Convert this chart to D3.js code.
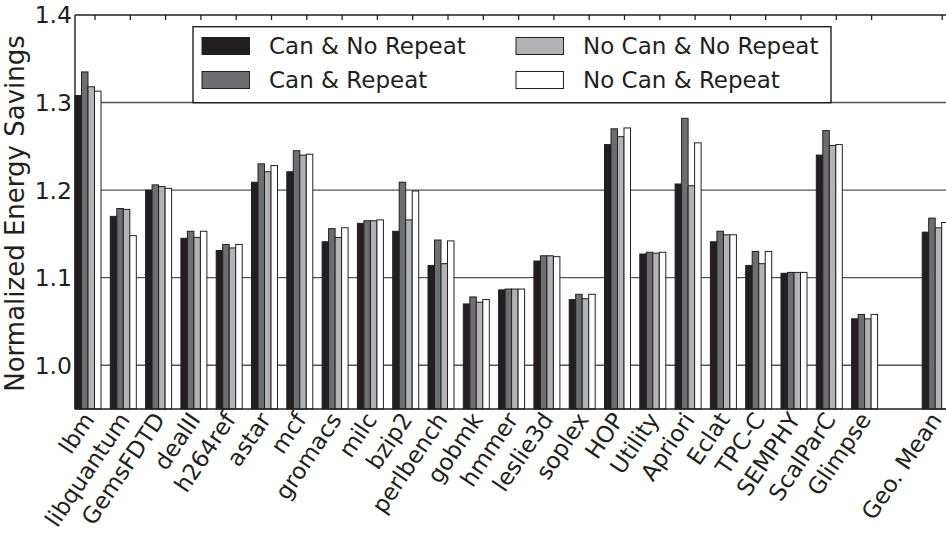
<!DOCTYPE html>
<html>
<head>
<meta charset="utf-8">
<script src="https://cdn.jsdelivr.net/npm/d3@7"></script>
<style>
  html, body { margin: 0; padding: 0; background: #fff; }
  svg { display: block; font-family: "DejaVu Sans", sans-serif; }
</style>
</head>
<body>
<svg id="chart" width="946" height="535"></svg>
<script>
// Benchmarks, in plotting order (an empty slot separates the geometric mean)
const categories = ["lbm", "libquantum", "GemsFDTD", "dealII", "h264ref", "astar", "mcf",
  "gromacs", "milc", "bzip2", "perlbench", "gobmk", "hmmer", "leslie3d", "soplex", "HOP",
  "Utility", "Apriori", "Eclat", "TPC-C", "SEMPHY", "ScalParC", "Glimpse", "", "Geo. Mean"];

const seriesNames = ["Can & No Repeat", "Can & Repeat", "No Can & No Repeat", "No Can & Repeat"];
const seriesColors = ["#231f20", "#6d6e71", "#b1b3b6", "#ffffff"];

const canNoRepeat = [1.308, 1.170, 1.200, 1.145, 1.131, 1.209, 1.221, 1.141, 1.162, 1.153,
  1.114, 1.070, 1.086, 1.119, 1.075, 1.252, 1.127, 1.207, 1.141, 1.114, 1.105, 1.240, 1.053, null, 1.152];
const canRepeat = [1.335, 1.179, 1.206, 1.153, 1.138, 1.230, 1.245, 1.156, 1.165, 1.209,
  1.143, 1.078, 1.087, 1.125, 1.081, 1.270, 1.129, 1.282, 1.153, 1.130, 1.106, 1.268, 1.058, null, 1.168];
const noCanNoRepeat = [1.318, 1.178, 1.204, 1.146, 1.134, 1.221, 1.240, 1.146, 1.165, 1.166,
  1.116, 1.072, 1.087, 1.125, 1.076, 1.261, 1.128, 1.205, 1.149, 1.116, 1.106, 1.251, 1.053, null, 1.157];
const noCanRepeat = [1.313, 1.148, 1.202, 1.153, 1.138, 1.228, 1.241, 1.157, 1.166, 1.199,
  1.142, 1.075, 1.087, 1.124, 1.081, 1.271, 1.129, 1.254, 1.149, 1.130, 1.106, 1.252, 1.058, null, 1.163];

const seriesValues = [canNoRepeat, canRepeat, noCanNoRepeat, noCanRepeat];

const yTicks = [1.0, 1.1, 1.2, 1.3, 1.4];
const yLabel = "Normalized Energy Savings";

const svg = d3.select("#chart");
const W = 946, H = 535;
const plotLeft = 75, plotTop = 15, plotBottom = 409;
const slot = 35.3;
const plotRight = plotLeft + slot * categories.length;

const x = d3.scaleBand()
  .domain(categories.map((c, i) => i))
  .range([plotLeft, plotRight])
  .paddingInner(0).paddingOuter(0);

const xInner = d3.scaleBand()
  .domain(d3.range(seriesNames.length))
  .range([0, 26]);

const y = d3.scaleLinear().domain([0.95, 1.4]).range([plotBottom, plotTop]);

// Horizontal grid lines
svg.append("g")
  .selectAll("line")
  .data(yTicks.filter(t => t > 0.95 && t < 1.4))
  .join("line")
  .attr("x1", plotLeft).attr("x2", W)
  .attr("y1", d => y(d)).attr("y2", d => y(d))
  .attr("stroke", "#555").attr("stroke-width", 1.4);

// Bars
const rows = [];
seriesValues.forEach((vals, s) => {
  vals.forEach((v, i) => {
    if (v != null) rows.push({ s, i, v });
  });
});

svg.append("g")
  .selectAll("rect")
  .data(rows)
  .join("rect")
  .attr("x", d => x(d.i) + xInner(d.s))
  .attr("width", xInner.bandwidth())
  .attr("y", d => y(d.v))
  .attr("height", d => y(0.95) - y(d.v))
  .attr("fill", d => seriesColors[d.s])
  .attr("stroke", "#231f20")
  .attr("stroke-width", 1);

// Frame: left, top and bottom spines
const frame = svg.append("g").attr("stroke", "#231f20").attr("stroke-width", 1.4).attr("fill", "none");
frame.append("line").attr("x1", plotLeft).attr("x2", plotLeft).attr("y1", plotTop).attr("y2", plotBottom);
frame.append("line").attr("x1", plotLeft).attr("x2", W).attr("y1", plotTop).attr("y2", plotTop);
frame.append("line").attr("x1", plotLeft).attr("x2", W).attr("y1", plotBottom).attr("y2", plotBottom);

// Category tick marks along the top edge
const tickX = i => x(i) + 20;
const labelled = categories.map((c, i) => ({ c, i })).filter(d => d.c !== "");
svg.append("g")
  .selectAll("line")
  .data(labelled)
  .join("line")
  .attr("x1", d => tickX(d.i)).attr("x2", d => tickX(d.i))
  .attr("y1", plotTop).attr("y2", plotTop + 5)
  .attr("stroke", "#231f20").attr("stroke-width", 1.3);

// Y axis tick labels
svg.append("g")
  .selectAll("text")
  .data(yTicks)
  .join("text")
  .attr("x", plotLeft - 3)
  .attr("y", d => y(d))
  .attr("dy", "0.36em")
  .attr("text-anchor", "end")
  .attr("font-size", 23.5)
  .attr("fill", "#231f20")
  .text(d => d.toFixed(1));

// Y axis title
svg.append("text")
  .attr("transform", `translate(24, ${(30 + 397) / 2}) rotate(-90)`)
  .attr("text-anchor", "middle")
  .attr("font-size", 26)
  .attr("fill", "#231f20")
  .text(yLabel);

// Rotated category labels
svg.append("g")
  .selectAll("text")
  .data(labelled)
  .join("text")
  .attr("transform", d => `translate(${tickX(d.i) - 6.5}, ${plotBottom + 6}) rotate(-56)`)
  .attr("text-anchor", "end")
  .attr("dy", "0.36em")
  .attr("font-size", 23)
  .attr("fill", "#231f20")
  .text(d => d.c);

// Legend
const legend = svg.append("g");
legend.append("rect")
  .attr("x", 193).attr("y", 26.7)
  .attr("width", 831 - 193).attr("height", 102.7 - 26.7)
  .attr("fill", "#fff").attr("stroke", "#231f20").attr("stroke-width", 1.4);

const legendPos = [
  { sx: 202, ty: 46 }, { sx: 202, ty: 80 },
  { sx: 516, ty: 46 }, { sx: 516, ty: 80 }
];
seriesNames.forEach((name, s) => {
  const p = legendPos[s];
  legend.append("rect")
    .attr("x", p.sx).attr("y", p.ty - 8.5)
    .attr("width", 47.5).attr("height", 17)
    .attr("fill", seriesColors[s])
    .attr("stroke", "#231f20").attr("stroke-width", 1);
  legend.append("text")
    .attr("x", p.sx + 67).attr("y", p.ty)
    .attr("dy", "0.36em")
    .attr("font-size", 23)
    .attr("fill", "#231f20")
    .text(name);
});
</script>
</body>
</html>
